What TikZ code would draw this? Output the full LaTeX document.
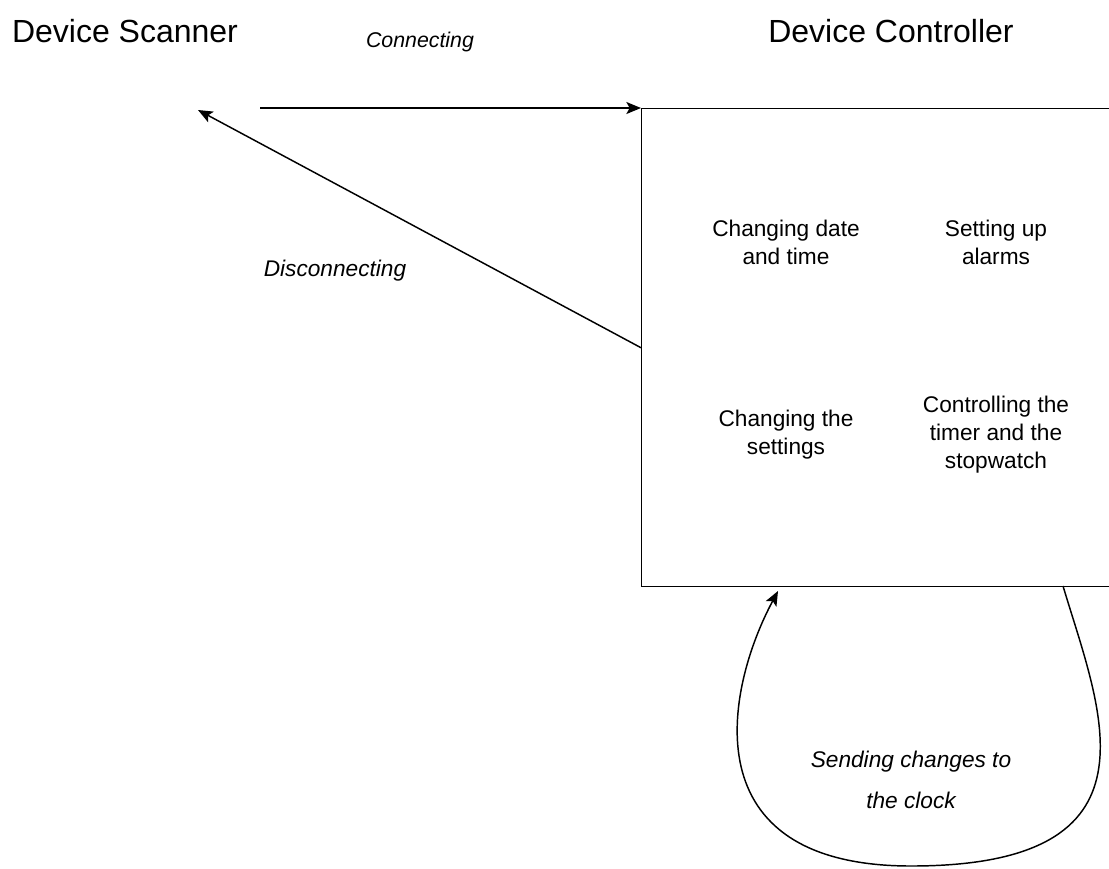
\documentclass[tikz,border=0pt]{standalone}
\usepackage{fontspec}
\setmainfont{Liberation Sans}
\usetikzlibrary{arrows.meta}
\begin{document}
\begin{tikzpicture}[x=0.75pt,y=-0.75pt,
    title/.style={font=\fontsize{24}{29}\selectfont},
    task/.style={align=center,font=\fontsize{17}{21}\selectfont},
    msg/.style={font=\fontsize{17}{21}\itshape\selectfont},
    flow/.style={line width=1.1pt,-{Stealth[length=11pt,width=9pt,inset=2.5pt]}}]
\useasboundingbox (0,0) rectangle (1109,868);
\clip (0,0) rectangle (1109,868);
\node[title,anchor=base] (scanner) at (125,42) {Device Scanner};
\node[title,anchor=base] (controller) at (891,42) {Device Controller};
\node[draw,line width=1.1pt,anchor=north west,minimum width=390pt,minimum height=358.5pt] (box) at (641,108) {};
\node[task] (datetime) at (786,242) {Changing date\\and time};
\node[task] (alarms) at (996,242) {Setting up\\alarms};
\node[task] (settings) at (786,435) {Changing the\\settings};
\node[task] (timer) at (996,435) {Controlling the\\timer and the\\stopwatch};
\node[msg,anchor=base,font=\fontsize{16}{21}\itshape\selectfont] (connect) at (420,47) {Connecting};
\node[msg,anchor=base] (disconnect) at (335,276) {Disconnecting};
\node[msg,align=center,font=\fontsize{17}{31}\itshape\selectfont] (send) at (911,780) {Sending changes to\\the clock};
\coordinate (start) at (260,108);
\coordinate (back) at (198,110);
\coordinate (loopout) at (1063,586);
\coordinate (loopin) at (778,591);
\draw[flow] (start) -- (box.north west);
\draw[flow] (box.west) -- (back);
\draw[flow] (loopout) .. controls (1100,710) and (1170,866) .. (911,866)
    .. controls (690,866) and (725,690) .. (loopin);
\end{tikzpicture}
\end{document}
